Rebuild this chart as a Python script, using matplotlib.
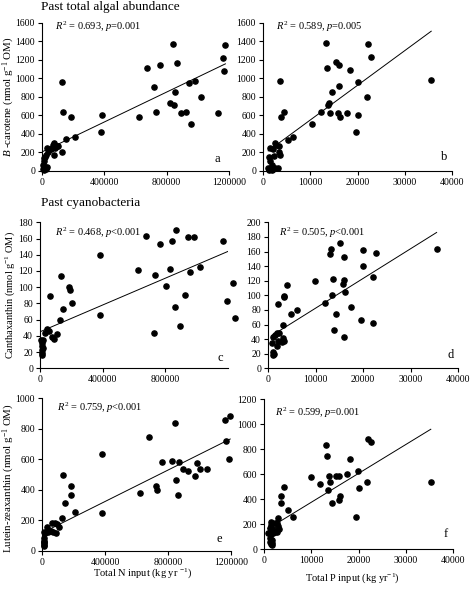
import matplotlib
matplotlib.use('Agg')
import matplotlib.pyplot as plt
import numpy as np

plt.rcParams['font.family'] = ['Liberation Serif', 'DejaVu Serif']
plt.rcParams['mathtext.fontset'] = 'custom'
plt.rcParams['mathtext.rm'] = 'Liberation Serif'
plt.rcParams['mathtext.it'] = 'Liberation Serif:italic'

# panel a: total N input vs beta-carotene
a_x = [839000, 1177000, 1160000, 865000, 759000, 672000, 1166000, 128000, 979000, 946000,
       720000, 855000, 1019000, 824000, 846000, 135000, 733000, 889000, 921000, 1131000,
       384000, 187000, 624000, 955000, 380000, 211000, 152000, 126000, 76000, 70000,
       95000, 105000, 85000, 60000, 50000, 35000, 40000, 80000, 25000, 15000,
       10000, 8000, 5000, 12000, 20000, 30000, 15000, 25000, 18000]
a_y = [1370, 1355, 1215, 1165, 1140, 1110, 1080, 960, 975, 945,
       910, 850, 795, 735, 715, 630, 630, 620, 630, 620,
       605, 577, 580, 500, 422, 368, 343, 202, 300, 280,
       265, 270, 250, 240, 230, 250, 200, 170, 175, 140,
       110, 60, 20, 35, 40, 45, 10, 20, 150]

# panel b: total P input vs beta-carotene
b_x = [13400, 22300, 22900, 15400, 16100, 13500, 18500, 35600, 3700, 20200,
       16100, 14600, 22100, 13900, 13800, 12200, 4400, 14200, 15900, 17700,
       20000, 3900, 16200, 10300, 19600, 6400, 5200, 2500, 2700, 1400,
       3300, 3400, 3500, 2100, 2300, 1200, 1400, 1800, 1600, 2100,
       2600, 3100, 1100, 1300, 1800]
b_y = [1380, 1366, 1225, 1171, 1142, 1110, 1088, 980, 969, 955,
       915, 854, 796, 731, 713, 634, 631, 627, 627, 627,
       605, 577, 580, 505, 422, 368, 332, 296, 278, 249,
       267, 199, 170, 235, 162, 145, 105, 62, 26, 15,
       26, 32, 26, 10, 5]

# panel c: total N input vs canthaxanthin
c_x = [676000, 870000, 945000, 981000, 843000, 1169000, 764000, 384000, 625000, 828000,
       132000, 736000, 960000, 1024000, 806000, 864000, 928000, 896000, 725000, 1195000,
       1231000, 1242000, 380000, 188000, 190000, 207000, 149000, 128000, 64000, 47000,
       58000, 32000, 111000, 75000, 90000, 21000, 13000, 13000, 13000, 13000,
       13000, 8000, 18000]
c_y = [163, 171, 162, 162, 157, 157, 153, 140, 121, 123,
       114, 115, 119, 125, 101, 75, 90, 52, 43, 83,
       105, 62, 66, 100, 96, 80, 73, 59, 89, 48,
       46, 43, 42, 38, 36, 35, 31, 27, 22, 19,
       17, 35, 25]

# panel d: total P input vs canthaxanthin
d_x = [15100, 13200, 13100, 20100, 22700, 35500, 15900, 19900, 22000, 13700,
       16000, 15800, 9900, 4000, 3400, 3400, 13500, 16300, 11900, 6000,
       17400, 4800, 14400, 2100, 19500, 22200, 13900, 15900, 3200, 1050,
       1900, 2300, 1500, 3200, 3000, 3300, 900, 2000, 1900, 1100,
       1300, 1050]
d_y = [171, 163, 157, 162, 158, 163, 153, 140, 125, 122,
       121, 116, 119, 114, 99, 97, 100, 105, 90, 80,
       84, 74, 75, 88, 66, 62, 52, 43, 59, 43,
       48, 49, 46, 41, 36, 38, 35, 38, 30, 22,
       20, 18]

# panel e: total N input vs lutein-zeaxanthin
e_x = [1195000, 1164000, 844000, 677000, 1168000, 378000, 1189000, 765000, 825000, 871000,
       898000, 930000, 970000, 985000, 1005000, 1045000, 850000, 862000, 725000, 733000,
       623000, 131000, 187000, 183000, 147000, 207000, 378000, 125000, 31000, 62000,
       83000, 93000, 108000, 58000, 72000, 87000, 41000, 21000, 10000, 12000,
       15000, 14000, 12000, 15000, 13000]
e_y = [886, 858, 836, 745, 723, 633, 600, 585, 587, 585,
       540, 525, 490, 575, 535, 537, 465, 367, 426, 400,
       382, 498, 426, 369, 316, 258, 251, 218, 159, 181,
       185, 177, 155, 133, 126, 120, 122, 116, 126, 83,
       67, 50, 39, 61, 33]

# panel f: total P input vs lutein-zeaxanthin
f_x = [22000, 22700, 13100, 13300, 18300, 10000, 13800, 15200, 15900, 17500,
       19800, 11900, 13900, 13600, 21900, 20000, 16000, 15800, 14300, 19400,
       35300, 4200, 3500, 3600, 5000, 6100, 3000, 2800, 1400, 2300,
       1500, 3000, 3100, 2800, 1200, 1900, 2400, 850, 1400, 1900,
       1200, 1600, 1200, 1600, 1400, 1700]
f_y = [885, 859, 837, 747, 725, 579, 589, 589, 587, 603,
       629, 523, 541, 472, 541, 493, 424, 395, 368, 256,
       541, 496, 429, 368, 315, 261, 248, 208, 221, 208,
       194, 186, 160, 141, 168, 160, 141, 128, 122, 128,
       88, 74, 61, 53, 42, 34]

# regression lines (intercept, slope) and stats text
fits = {'a': (203, 0.000809), 'b': (173, 0.0375), 'c': (45, 0.0000826),
        'd': (41.6, 0.00407), 'e': (118, 0.000515), 'f': (145, 0.0231)}
stats = {'a': r'$R^2$ = 0.693, $p$=0.001', 'b': r'$R^2$ = 0.589, $p$=0.005',
         'c': r'$R^2$ = 0.468, $p$<0.001', 'd': r'$R^2$ = 0.505, $p$<0.001',
         'e': r'$R^2$ = 0.759, $p$<0.001', 'f': r'$R^2$ = 0.599, $p$=0.001'}

n_ticks = [0, 400000, 800000, 1200000]
p_ticks = [0, 10000, 20000, 30000, 40000]

W, H = 474, 589
fig = plt.figure(figsize=(W / 100, H / 100), dpi=100)


def add_panel(left, right, top, bottom):
    return fig.add_axes([left / W, 1 - bottom / H, (right - left) / W, (bottom - top) / H])


def draw(ax, x, y, key, xlim, xticks, ylim, ystep, stat_pos, letter_pos):
    ax.scatter(x, y, s=14, color='black', clip_on=False, zorder=3)
    b0, b1 = fits[key]
    xs = np.array([min(x), max(x)])
    ax.plot(xs, b0 + b1 * xs, color='black', lw=0.7)
    ax.set_xlim(*xlim)
    ax.set_ylim(*ylim)
    ax.set_xticks(xticks)
    ax.set_xticklabels([str(t) for t in xticks])
    ax.set_yticks(np.arange(ylim[0], ylim[1] + 1, ystep))
    ax.spines['top'].set_visible(False)
    ax.spines['right'].set_visible(False)
    ax.spines['left'].set_linewidth(0.8)
    ax.spines['bottom'].set_linewidth(0.8)
    ax.tick_params(direction='out', length=3, width=0.8, labelsize=7, pad=2)
    ax.text(*stat_pos, stats[key], transform=ax.transAxes, fontsize=7.5, va='center')
    ax.text(*letter_pos, key, transform=ax.transAxes, fontsize=9, ha='center', va='center')


ax_a = add_panel(42, 229, 22.7, 170.7)
draw(ax_a, a_x, a_y, 'a', (0, 1200000), n_ticks, (0, 1600), 200, (0.07, 0.97), (0.94, 0.08))
ax_b = add_panel(263, 452, 22.7, 170.7)
draw(ax_b, b_x, b_y, 'b', (0, 40000), p_ticks, (0, 1600), 200, (0.07, 0.97), (0.96, 0.09))
ax_c = add_panel(40, 228, 222.3, 368.3)
draw(ax_c, c_x, c_y, 'c', (0, 1200000), n_ticks[:3], (0, 180), 20, (0.08, 0.93), (0.96, 0.07))
ax_d = add_panel(268, 458, 222.3, 368.3)
draw(ax_d, d_x, d_y, 'd', (0, 40000), p_ticks, (0, 200), 20, (0.06, 0.93), (0.96, 0.09))
ax_e = add_panel(42, 231, 398.3, 551)
draw(ax_e, e_x, e_y, 'e', (0, 1200000), n_ticks, (0, 1000), 200, (0.08, 0.94), (0.94, 0.08))
ax_f = add_panel(264, 453, 399.3, 549.3)
draw(ax_f, f_x, f_y, 'f', (0, 40000), p_ticks, (0, 1200), 200, (0.06, 0.91), (0.96, 0.10))

ax_a.set_ylabel(r'$\mathit{B}$ -carotene (nmol g$^{-1}$ OM)', fontsize=7.8, va='center')
ax_a.yaxis.set_label_coords(-0.178, 0.5)
ax_c.set_ylabel(r'Canthaxanthin (nmol g$^{-1}$ OM)', fontsize=7.5, va='center')
ax_c.yaxis.set_label_coords(-0.16, 0.5)
ax_e.set_ylabel(r'Lutein-zeaxanthin (nmol g$^{-1}$ OM)', fontsize=7.8, va='center')
ax_e.yaxis.set_label_coords(-0.175, 0.48)

fig.text(143 / W, 1 - 573 / H, r'Total N input (kg yr $^{-1}$)', fontsize=7.5, ha='center', va='center')
fig.text(352 / W, 1 - 578 / H, r'Total P input (kg yr$^{-1}$)', fontsize=7.5, ha='center', va='center')

fig.text(41 / W, 1 - 7 / H, 'Past total algal abundance', fontsize=9.5, va='center')
fig.text(41 / W, 1 - 203 / H, 'Past cyanobacteria', fontsize=9.5, va='center')

fig.savefig('out.png', dpi=100)
